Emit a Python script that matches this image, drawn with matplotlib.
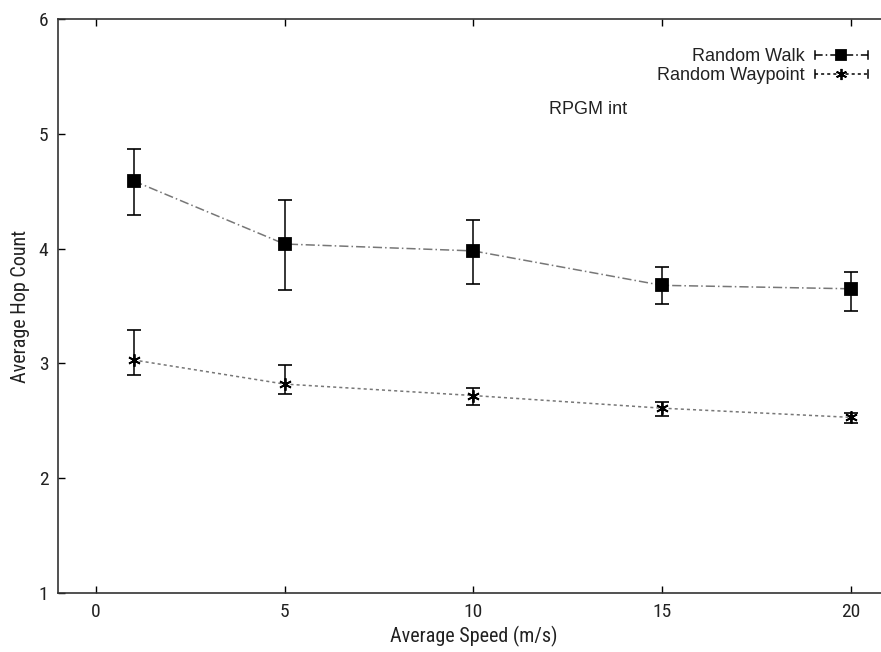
import matplotlib
matplotlib.use("Agg")
import matplotlib.pyplot as plt
from matplotlib.lines import Line2D
from matplotlib.legend_handler import HandlerBase

speed = [1, 5, 10, 15, 20]
walk = [4.59, 4.04, 3.98, 3.68, 3.65]
walk_hi = [4.87, 4.42, 4.25, 3.84, 3.80]
walk_lo = [4.29, 3.64, 3.69, 3.52, 3.46]
wayp = [3.03, 2.82, 2.72, 2.61, 2.53]
wayp_hi = [3.29, 2.99, 2.79, 2.66, 2.57]
wayp_lo = [2.90, 2.73, 2.64, 2.54, 2.48]
labels = ["Random Walk", "Random Waypoint"]
xticks = [0, 5, 10, 15, 20]
yticks = [1, 2, 3, 4, 5, 6]

NARROW = ["Roboto Condensed", "Liberation Sans", "DejaVu Sans"]
REGULAR = ["Liberation Sans", "DejaVu Sans"]
plt.rcParams["font.family"] = NARROW

fig = plt.figure(figsize=(8.81, 6.52), dpi=100)
ax = fig.add_axes([58/881, 59/652, 830.5/881, 574/652])
ax.set_xlim(-1, 21)
ax.set_ylim(1, 6)

def draw(y, hi, lo, marker, ms, ls, els):
    ax.plot(speed, y, color="#777777", lw=1.1, ls=ls, zorder=2)
    for xi, yi, h, l in zip(speed, y, hi, lo):
        ax.errorbar([xi], [yi], yerr=[[yi - l], [h - yi]], fmt="none", ecolor="black",
                    elinewidth=1.1, capsize=5, capthick=1.2, ls=els, zorder=3)
    ax.plot(speed, y, ls="none", marker=marker, ms=ms, color="black", mew=1.3, zorder=4)

draw(walk, walk_hi, walk_lo, "s", 8, (0, (6, 2, 1, 2)), (0, (6, 2, 1, 2)))
draw(wayp, wayp_hi, wayp_lo, (6, 2, 0), 9, (0, (2, 2)), (0, (3, 2)))

ax.set_xticks(xticks)
ax.set_yticks(yticks)
ax.tick_params(direction="in", top=True, right=True, length=5, width=1, pad=7,
               labelsize=14, labelcolor="#222222")
for s in ax.spines.values():
    s.set_linewidth(1.2)
    s.set_color("#333333")
ax.set_xlabel("Average Speed (m/s)", fontsize=14.5, labelpad=4, color="#222222")
ax.set_ylabel("Average Hop Count", fontsize=14.5, labelpad=6, color="#222222")

ax.text(12.0, 5.21, "RPGM int", family=REGULAR, fontsize=13, va="center", ha="left",
        color="#222222")

class ErrHandler(HandlerBase):
    def __init__(self, marker, ms, ls):
        super().__init__()
        self.marker, self.ms, self.ls = marker, ms, ls
    def create_artists(self, legend, orig_handle, xdescent, ydescent, width, height, fontsize, trans):
        y = height / 2 - ydescent
        x0, x1 = -xdescent, -xdescent + width
        line = Line2D([x0, x1], [y, y], color="black", lw=1.1, ls=self.ls, transform=trans)
        c0 = Line2D([x0, x0], [y - 3, y + 3], color="black", lw=1.1, transform=trans)
        c1 = Line2D([x1, x1], [y - 3, y + 3], color="black", lw=1.1, transform=trans)
        m = Line2D([(x0 + x1) / 2], [y], marker=self.marker, ms=self.ms, color="black",
                   mew=1.3, ls="none", transform=trans)
        return [line, c0, c1, m]

h1 = Line2D([], [])
h2 = Line2D([], [])
leg = ax.legend([h1, h2], labels, loc="upper right",
                bbox_to_anchor=(884/881, 620/652), bbox_transform=fig.transFigure,
                frameon=False, markerfirst=False, handlelength=2.93, handletextpad=0.55,
                labelspacing=0.12, prop={"family": REGULAR, "size": 13},
                handler_map={h1: ErrHandler("s", 7, (0, (5, 2, 1, 2))),
                             h2: ErrHandler((6, 2, 0), 8, (0, (2, 2)))})
for t in leg.get_texts():
    t.set_color("#222222")

fig.savefig("out.png", dpi=100)
